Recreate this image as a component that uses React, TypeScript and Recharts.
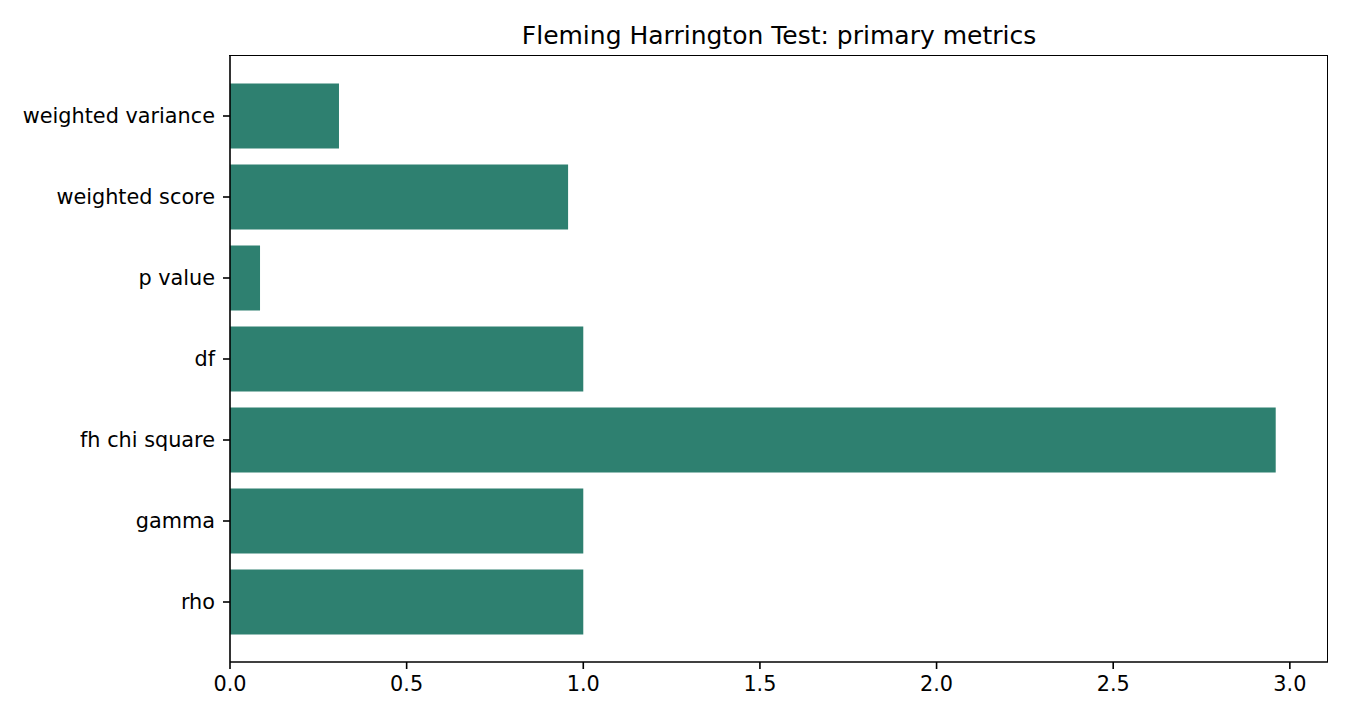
import React from "react";
import { BarChart, Bar, XAxis, YAxis } from "recharts";

const metrics = [
  "weighted variance",
  "weighted score",
  "p value",
  "df",
  "fh chi square",
  "gamma",
  "rho",
];
const values = [0.3085, 0.957, 0.085, 1.0, 2.96, 1.0, 1.0];
const xTicks = [0, 0.5, 1, 1.5, 2, 2.5, 3];

const data = metrics.map((name, i) => ({ name, value: values[i] }));

const FONT = "'DejaVu Sans', sans-serif";
const tickStyle = { fontSize: 20.8, fill: "#000", fontFamily: FONT };

const App: React.FC = () => {
  return (
    <div
      style={{
        position: "absolute",
        left: 0,
        top: 0,
        width: 1350,
        height: 720,
        background: "#fff",
      }}
    >
      <div
        style={{
          position: "absolute",
          left: 230,
          width: 1098,
          top: 21,
          textAlign: "center",
          fontFamily: FONT,
          fontSize: 25,
          color: "#000",
        }}
      >
        Fleming Harrington Test: primary metrics
      </div>
      <BarChart
        width={1350}
        height={720}
        data={data}
        layout="vertical"
        barCategoryGap="10%"
        margin={{ top: 56, right: 22, bottom: 0, left: 0 }}
      >
        <XAxis
          type="number"
          domain={[0, 3.108]}
          ticks={xTicks}
          allowDataOverflow
          tickFormatter={(v: number) => v.toFixed(1)}
          height={58}
          tickSize={7}
          tickMargin={7}
          stroke="#000"
          tick={tickStyle}
          axisLine={{ stroke: "#000", strokeWidth: 1.6 }}
          tickLine={{ stroke: "#000", strokeWidth: 1.6 }}
        />
        <YAxis
          type="category"
          dataKey="name"
          width={230}
          tickSize={7}
          tickMargin={8}
          padding={{ top: 19.5, bottom: 19.5 }}
          interval={0}
          stroke="#000"
          tick={tickStyle}
          axisLine={{ stroke: "#000", strokeWidth: 1.6 }}
          tickLine={{ stroke: "#000", strokeWidth: 1.6 }}
        />
        <Bar dataKey="value" fill="#2E8070" isAnimationActive={false} />
      </BarChart>
      {/* top and right spines */}
      <div
        style={{
          position: "absolute",
          left: 229,
          top: 55,
          width: 1098,
          height: 606,
          borderTop: "1.6px solid #000",
          borderRight: "1.6px solid #000",
          pointerEvents: "none",
        }}
      />
    </div>
  );
};

export default App;
